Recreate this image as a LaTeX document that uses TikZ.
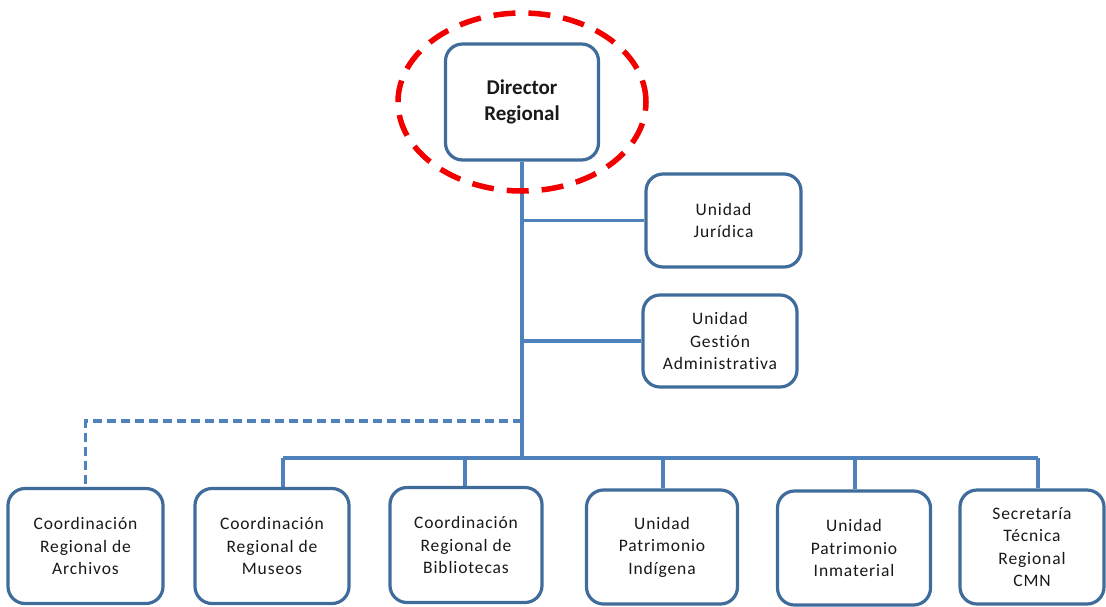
\documentclass[tikz,border=0pt]{standalone}
\usepackage{fontspec}
\setmainfont{Carlito}
\usetikzlibrary{backgrounds}
\definecolor{boxblue}{HTML}{3F6C9B}
\definecolor{linkblue}{HTML}{4F81BD}
\begin{document}
\begin{tikzpicture}[x=1pt,y=-1pt,
  unitbox/.style={draw=boxblue, line width=3.2pt, rounded corners=17pt, fill=white,
    align=center, inner sep=2pt, text=black!90,
    font=\fontsize{17.5}{22.5}\selectfont\addfontfeatures{LetterSpace=5,Ligatures=NoCommon}},
  conn/.style={draw=linkblue, line width=3.5pt},
  dconn/.style={conn, dash pattern=on 9pt off 5pt},
  redring/.style={draw=red!95!black, line width=5.5pt, dash pattern=on 22pt off 13pt}]
\useasboundingbox (0,0) rectangle (1106,606);

\node[unitbox, minimum width=153pt, minimum height=116pt,
  font=\fontsize{21}{26}\selectfont\bfseries] (dir) at (522,102) {Director\\Regional};
\node[unitbox, minimum width=155pt, minimum height=93pt] (jur) at (723.5,220.5) {Unidad\\Jurídica};
\node[unitbox, minimum width=154pt, minimum height=92pt] (ges) at (720,341) {Unidad\\Gestión\\Administrativa};
\node[unitbox, minimum width=155pt, minimum height=115pt] (arc) at (85.5,546) {Coordinación\\Regional de\\Archivos};
\node[unitbox, minimum width=154pt, minimum height=115pt] (mus) at (272,546) {Coordinación\\Regional de\\Museos};
\node[unitbox, minimum width=152pt, minimum height=115pt] (bib) at (466,545) {Coordinación\\Regional de\\Bibliotecas};
\node[unitbox, minimum width=151pt, minimum height=114pt] (ind) at (662,547) {Unidad\\Patrimonio\\Indígena};
\node[unitbox, minimum width=153pt, minimum height=114pt] (inm) at (854,548) {Unidad\\Patrimonio\\Inmaterial};
\node[unitbox, minimum width=144pt, minimum height=114pt] (sec) at (1032,547) {Secretaría\\Técnica\\Regional\\CMN};

\begin{scope}[on background layer]
\coordinate (barL) at (283,458);
\coordinate (barR) at (1038,458);
\draw[conn] (dir.south) -- (dir.south |- barL);
\draw[conn] (dir.south |- jur.west) -- (jur.west);
\draw[conn] (dir.south |- ges.west) -- (ges.west);
\draw[conn] (barL) -- (barR);
\foreach \n/\x in {mus/283, bib/465, ind/663, inm/855, sec/1038}
  \draw[conn] (\x,458) -- (\x,458 |- \n.north);
\draw[dconn] (dir.south |- 0,421) -| (arc.north);
\end{scope}

\draw[redring] (522,102) ellipse [x radius=124pt, y radius=89pt];
\end{tikzpicture}
\end{document}
